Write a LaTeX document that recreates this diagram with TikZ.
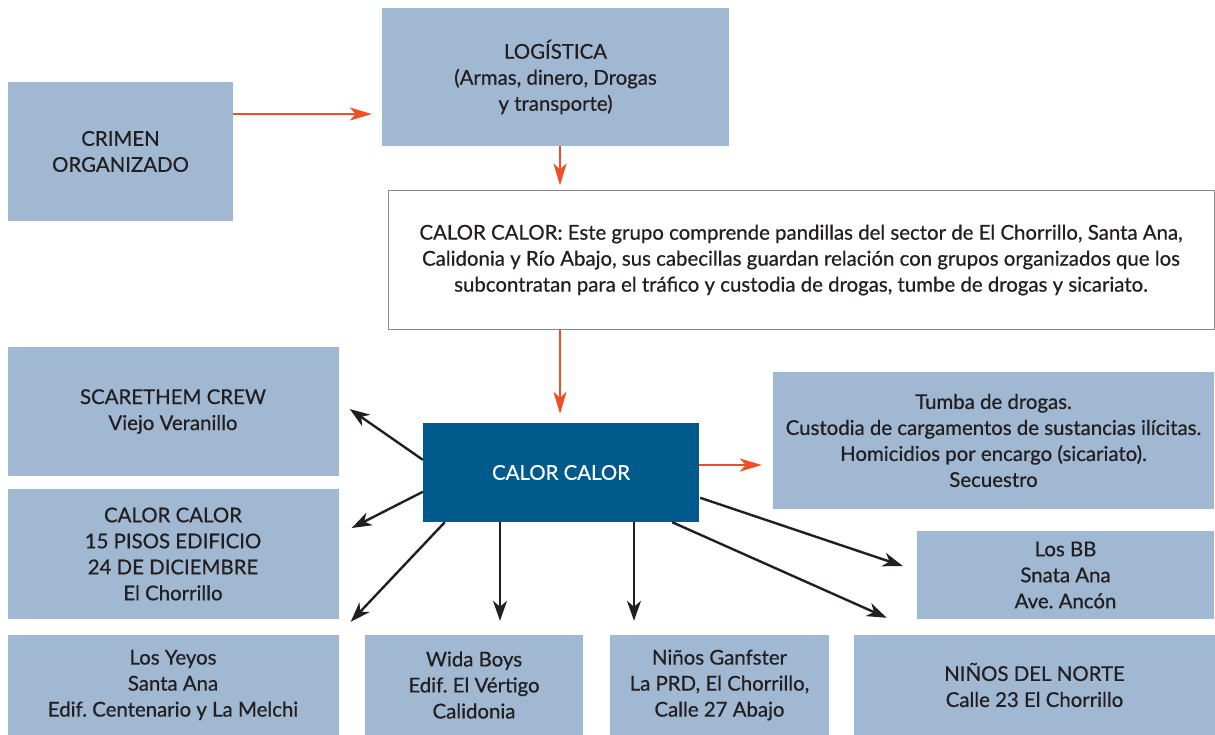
\documentclass[tikz,border=0pt]{standalone}
\usepackage{fontspec}
\setmainfont{Lato}[FakeBold=0.6, AutoFakeBold=0.6]
\usetikzlibrary{arrows.meta,calc}
\definecolor{boxblue}{HTML}{A0B8D2}
\definecolor{darkblue}{HTML}{005B8C}
\definecolor{arrred}{HTML}{F04E23}
\definecolor{txt}{HTML}{231F20}
\definecolor{bordergray}{HTML}{8A8A8A}
\tikzset{
  lbox/.style={fill=boxblue, draw=none, inner sep=0pt, align=center, text=txt},
  wbox/.style={fill=white, draw=bordergray, line width=1pt, inner sep=0pt, align=center, text=txt},
  dbox/.style={fill=darkblue, draw=none, inner sep=0pt, align=center, text=white},
  redarrow/.style={draw=arrred, line width=2.6pt, -{Stealth[length=22pt,width=13pt,inset=6pt]}},
  blkarrow/.style={draw=txt, line width=2.4pt, -{Stealth[length=20pt,width=14pt,inset=6pt]}}
}
\begin{document}
\frenchspacing
\begin{tikzpicture}[x=1pt,y=-1pt, font=\fontsize{20.4}{26}\selectfont]
\useasboundingbox (0,0) rectangle (1215,735);
\node[lbox, minimum width=225pt, minimum height=139pt] (crimen) at (120.5,151.5) {CRIMEN\\ORGANIZADO};
\node[lbox, minimum width=347pt, minimum height=138pt] (log) at (555.5,77) {LOGÍSTICA\\(Armas, dinero, Drogas\\y transporte)};
\node[wbox, minimum width=826pt, minimum height=138pt] (desc) at (801,260) {CALOR CALOR: Este grupo comprende pandillas del sector de El Chorrillo, Santa Ana,\\Calidonia y Río Abajo, sus cabecillas guardan relación con grupos organizados que los\\subcontratan para el tráfico y custodia de drogas, tumbe de drogas y sicariato.};
\node[lbox, minimum width=331pt, minimum height=129pt] (scare) at (173,411.5) {SCARETHEM CREW\\Viejo Veranillo};
\node[lbox, minimum width=331pt, minimum height=130pt] (pisos) at (173,554) {CALOR CALOR\\15 PISOS EDIFICIO\\24 DE DICIEMBRE\\El Chorrillo};
\node[dbox, minimum width=276pt, minimum height=99pt] (dark) at (561,472.5) {CALOR CALOR};
\node[lbox, minimum width=441pt, minimum height=137pt] (tumba) at (993.5,440.5) {Tumba de drogas.\\Custodia de cargamentos de sustancias ilícitas.\\Homicidios por encargo (sicariato).\\Secuestro};
\node[lbox, minimum width=297pt, minimum height=88pt] (bb) at (1065.5,575) {Los BB\\Snata Ana\\Ave. Ancón};
\node[lbox, minimum width=331pt, minimum height=100pt] (yeyos) at (173,685) {Los Yeyos\\Santa Ana\\Edif. Centenario y La Melchi};
\node[lbox, minimum width=218pt, minimum height=100pt] (wida) at (474,685) {Wida Boys\\Edif. El Vértigo\\Calidonia};
\node[lbox, minimum width=219pt, minimum height=100pt] (ganf) at (719.5,685) {Niños Ganfster\\La PRD, El Chorrillo,\\Calle 27 Abajo};
\node[lbox, minimum width=361pt, minimum height=100pt] (norte) at (1034.5,685) {NIÑOS DEL NORTE\\Calle 23 El Chorrillo};
% red arrows
\draw[redarrow, shorten >=10pt] (crimen.east |- 0,114) -- (log.west |- 0,114);
\draw[redarrow, shorten >=5pt] (log.south -| 560,0) -- (desc.north -| 560,0);
\draw[redarrow, shorten >=9pt] (desc.south -| 560,0) -- (dark.north -| 560,0);
\draw[redarrow, shorten >=11pt] (dark.east |- 0,465) -- (tumba.west |- 0,465);
% black arrows
\coordinate (s1) at ($(dark.north west)+(0,37)$);
\coordinate (e1) at ($(scare.east)+(11,-2.5)$);
\draw[blkarrow] (s1) -- (e1);
\coordinate (s2) at ($(dark.north west)+(0,69)$);
\coordinate (e2) at ($(pisos.east)+(13,-26)$);
\draw[blkarrow] (s2) -- (e2);
\coordinate (s3) at ($(dark.south west)+(22,0)$);
\coordinate (e3) at ($(yeyos.north east)+(12,-13)$);
\draw[blkarrow] (s3) -- (e3);
\draw[blkarrow, shorten >=14pt] (dark.south -| 500,0) -- (wida.north -| 500,0);
\draw[blkarrow, shorten >=14pt] (dark.south -| 634,0) -- (ganf.north -| 634,0);
\coordinate (s4) at ($(dark.north east)+(1,75)$);
\coordinate (e4) at ($(bb.west)+(-14,-9)$);
\draw[blkarrow] (s4) -- (e4);
\coordinate (s5) at ($(dark.south east)+(-27,0)$);
\coordinate (e5) at ($(norte.north west)+(33,-17)$);
\draw[blkarrow] (s5) -- (e5);
\end{tikzpicture}
\end{document}
